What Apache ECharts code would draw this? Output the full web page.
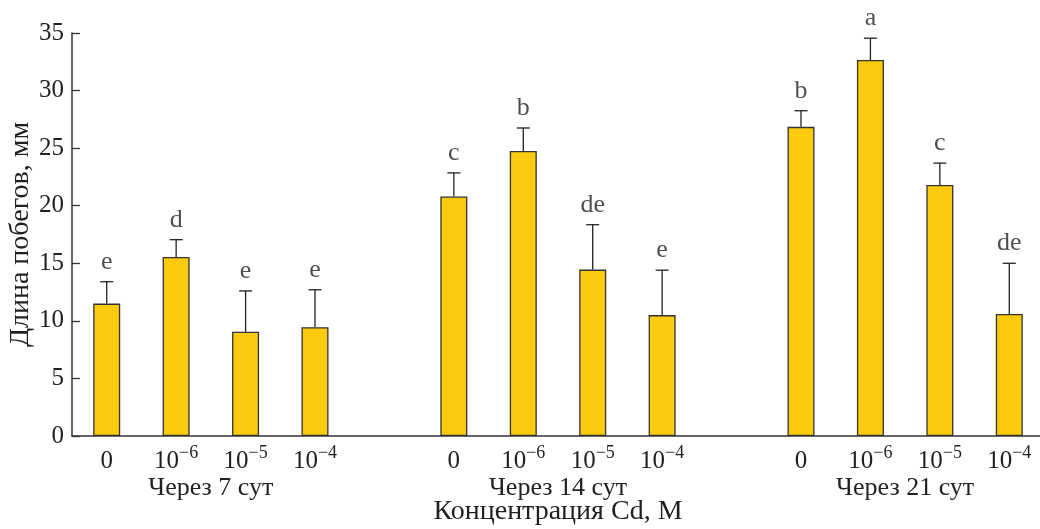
<!DOCTYPE html>
<html>
<head>
<meta charset="utf-8">
<script src="https://cdn.jsdelivr.net/npm/echarts@6/dist/echarts.min.js"></script>
<style>
  html, body { margin: 0; padding: 0; background: #fff; }
  #chart { width: 1040px; height: 529px; }
</style>
</head>
<body>
<div id="chart"></div>
<script>
// concentration labels under each bar (exponent of 10, '0' = control)
const concLabels = ['0', '-6', '-5', '-4']
const groupNames = ['Через 7 сут', 'Через 14 сут', 'Через 21 сут']
// mean shoot length, mm
const means7 = [11.5, 15.55, 9.05, 9.45]
const means14 = [20.8, 24.75, 14.45, 10.5]
const means21 = [26.85, 32.65, 21.8, 10.6]
// error bar (upper) length
const err7 = [1.9, 1.5, 3.55, 3.25]
const err14 = [2.05, 2.0, 3.9, 3.9]
const err21 = [1.4, 1.9, 1.9, 4.4]
// significance letters
const letters7 = ['e', 'd', 'e', 'e']
const letters14 = ['c', 'b', 'de', 'e']
const letters21 = ['b', 'a', 'c', 'de']
const yTicks = [0, 5, 10, 15, 20, 25, 30, 35]

const FONT = '"Liberation Serif", "DejaVu Serif", serif'
const TXT = '#231f20'
const BAR = '#fccb0d'

// build 14 slots: 4 bars, 1 empty, 4 bars, 1 empty, 4 bars
const groups = [
    { m: means7, e: err7, l: letters7 },
    { m: means14, e: err14, l: letters14 },
    { m: means21, e: err21, l: letters21 }
]
const categories = []
const catLabels = []
const barData = []
const errData = []
const letterData = []
groups.forEach((g, gi) => {
    if (gi > 0) {
        categories.push('gap' + gi)
        catLabels.push('')
        barData.push('-')
    }
    g.m.forEach((v, i) => {
        const idx = categories.length
        categories.push('g' + gi + 'c' + i)
        catLabels.push(concLabels[i])
        barData.push(v)
        errData.push([idx, v, v + g.e[i]])
        letterData.push([idx, v + g.e[i], g.l[i]])
    })
})
const groupPos = [2, 7, 12]

const chart = echarts.init(document.getElementById('chart'))
chart.setOption({
    animation: false,
    textStyle: { fontFamily: FONT, color: TXT },
    grid: { left: 72, right: -4, top: 33, bottom: 93, containLabel: false, outerBoundsMode: 'none' },
    xAxis: [{
        type: 'category',
        data: categories,
        boundaryGap: true,
        axisLine: { lineStyle: { color: '#333', width: 1.5 } },
        axisTick: { inside: true, length: 9, interval: 0, lineStyle: { color: '#333', width: 1.3 } },
        axisLabel: {
            interval: 0,
            margin: 8,
            formatter: (val, idx) => {
                const s = catLabels[idx]
                if (s === '') return ''
                if (s === '0') return '{b|0}'
                return '{b|10}{s|\u2212' + s.slice(1) + '}'
            },
            rich: {
                b: { fontFamily: FONT, fontSize: 25, color: TXT, lineHeight: 30, verticalAlign: 'bottom' },
                s: { fontFamily: FONT, fontSize: 18, color: TXT, lineHeight: 18, verticalAlign: 'top' }
            }
        },
        name: 'Концентрация Cd, М',
        nameLocation: 'middle',
        nameGap: 62,
        nameTextStyle: { fontFamily: FONT, fontSize: 28, color: TXT }
    }, {
        type: 'value',
        min: 0,
        max: categories.length,
        position: 'bottom',
        axisLine: { show: false },
        axisTick: { show: false },
        splitLine: { show: false },
        axisLabel: {
            customValues: groupPos,
            margin: 39,
            fontFamily: FONT,
            fontSize: 26,
            color: TXT,
            formatter: v => groupNames[groupPos.indexOf(v)] || ''
        }
    }],
    yAxis: {
        type: 'value',
        min: 0,
        max: 35,
        interval: 5,
        axisLine: { show: true, lineStyle: { color: '#333', width: 1.5 } },
        axisTick: { show: true, inside: true, length: 8, lineStyle: { color: '#333', width: 1.3 } },
        splitLine: { show: false },
        axisLabel: {
            margin: 8,
            fontFamily: FONT,
            fontSize: 25,
            color: TXT,
            formatter: v => (yTicks.indexOf(v) >= 0 ? String(v) : '')
        },
        name: 'Длина побегов, мм',
        nameLocation: 'middle',
        nameGap: 37,
        nameMoveOverlap: false,
        nameTextStyle: { fontFamily: FONT, fontSize: 28, color: TXT }
    },
    series: [{
        type: 'bar',
        xAxisIndex: 0,
        data: barData,
        barWidth: 27,
        itemStyle: { color: BAR, borderColor: '#333', borderWidth: 1.3 }
    }, {
        type: 'custom',
        xAxisIndex: 0,
        data: errData,
        z: 1,
        renderItem: (params, api) => {
            const base = api.coord([api.value(0), api.value(1)])
            const top = api.coord([api.value(0), api.value(2)])
            const hw = 6.5
            return {
                type: 'group',
                children: [{
                    type: 'line',
                    shape: { x1: top[0], y1: base[1], x2: top[0], y2: top[1] },
                    style: { stroke: '#222', lineWidth: 1.3 }
                }, {
                    type: 'line',
                    shape: { x1: top[0] - hw, y1: top[1], x2: top[0] + hw, y2: top[1] },
                    style: { stroke: '#222', lineWidth: 1.3 }
                }]
            }
        }
    }, {
        type: 'scatter',
        xAxisIndex: 0,
        data: letterData,
        symbolSize: 0,
        label: {
            show: true,
            position: 'top',
            distance: 7,
            fontFamily: FONT,
            fontSize: 26,
            color: TXT,
            formatter: p => p.value[2]
        }
    }]
})
</script>
</body>
</html>
